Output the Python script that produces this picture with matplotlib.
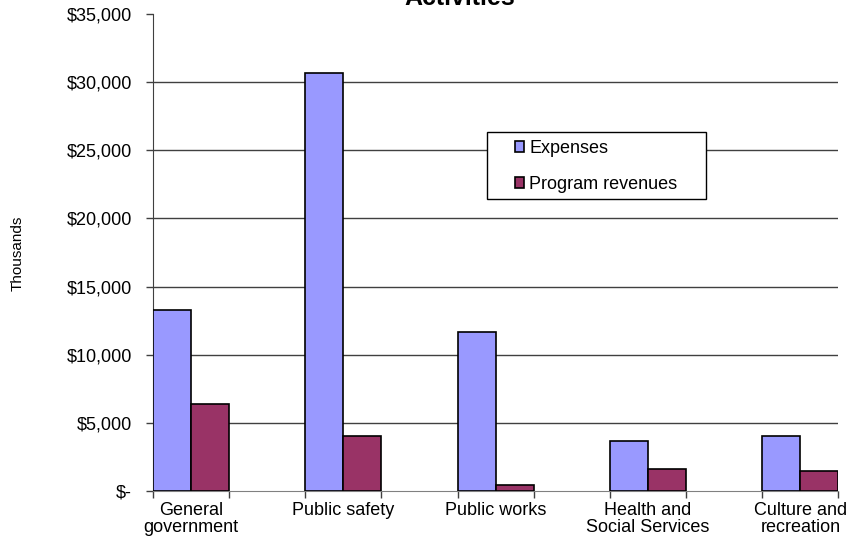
#!/usr/bin/env python
# Expenses vs program revenues by function (governmental activities)

import numpy as np
import matplotlib
matplotlib.use("Agg")
import matplotlib.pyplot as plt
from matplotlib.patches import Rectangle
from matplotlib.ticker import FuncFormatter, MultipleLocator

# Data (thousands of dollars)
categories = ["General\ngovernment", "Public safety", "Public works",
              "Health and\nSocial Services", "Culture and\nrecreation"]
expenses = [13300, 30700, 11700, 3650, 4050]
program_revenues = [6400, 4000, 450, 1600, 1450]
series_names = ["Expenses", "Program revenues"]


def dollar_fmt(v, pos):
    # Excel accounting style: zero shows as "$-"
    if v == 0:
        return "$-"
    return f"${v:,.0f}"


def main():
    plt.rcParams["font.family"] = ["Liberation Sans", "DejaVu Sans"]

    W, H = 849, 542
    fig = plt.figure(figsize=(W / 100, H / 100), dpi=100)
    ax = fig.add_axes([153 / W, 1 - 491 / H, 685.5 / W, 477 / H])

    x = np.arange(len(categories))
    width = 0.25

    b1 = ax.bar(x, expenses, width, align="edge", color="#9999FF",
                edgecolor="black", linewidth=1.2, zorder=3)
    b2 = ax.bar(x + width, program_revenues, width, align="edge",
                color="#993366", edgecolor="black", linewidth=1.2, zorder=3)

    ax.set_xlim(0, len(categories) - 0.5)
    ax.set_ylim(0, 35000)

    # y axis
    ax.yaxis.set_major_locator(MultipleLocator(5000))
    ax.yaxis.set_major_formatter(FuncFormatter(dollar_fmt))
    ax.tick_params(axis="y", length=5, width=1, color="#404040",
                   labelsize=13, pad=10)

    # gridlines for 5,000 .. 30,000 only (none at the top)
    for v in range(5000, 35000, 5000):
        ax.axhline(v, color="#404040", linewidth=1, zorder=0)

    fig.text(18 / W, 1 - 253 / H, "Thousands", rotation=90, ha="center",
             va="center", fontsize=11)

    # x axis: ticks on bar edges, labels centred under each pair
    ax.set_xticks(np.arange(0, len(categories) - 0.49, 0.5))
    ax.set_xticklabels([])
    ax.set_xticks(x + width, minor=True)
    ax.set_xticklabels(categories, minor=True, fontsize=13,
                       linespacing=1.0)
    ax.tick_params(axis="x", which="major", length=5, width=1,
                   color="#404040")
    ax.tick_params(axis="x", which="minor", length=0, pad=8)

    for side in ["top", "right"]:
        ax.spines[side].set_visible(False)
    ax.spines["left"].set_color("#404040")
    ax.spines["bottom"].set_color("#808080")

    # Title, mostly cut off at the top of the image (as in the original)
    fig.text(460 / W, 1 - 5 / H, "Activities", ha="center",
             va="baseline", fontsize=18, fontweight="bold")

    # legend box drawn by hand to match the original frame
    fig.patches.append(Rectangle((487 / W, 1 - 199 / H), 219 / W, 67 / H,
                                 transform=fig.transFigure, facecolor="white",
                                 edgecolor="black", linewidth=1, zorder=5))
    leg = fig.legend([b1, b2], series_names, loc="upper left",
                     bbox_to_anchor=(515 / W, 1 - 140 / H),
                     fontsize=13, frameon=False,
                     handlelength=0.5, handleheight=0.5,
                     handletextpad=0.3, labelspacing=1.05,
                     borderpad=0, borderaxespad=0)
    leg.set_zorder(6)

    fig.savefig("out.png", dpi=100)


if __name__ == "__main__":
    main()
